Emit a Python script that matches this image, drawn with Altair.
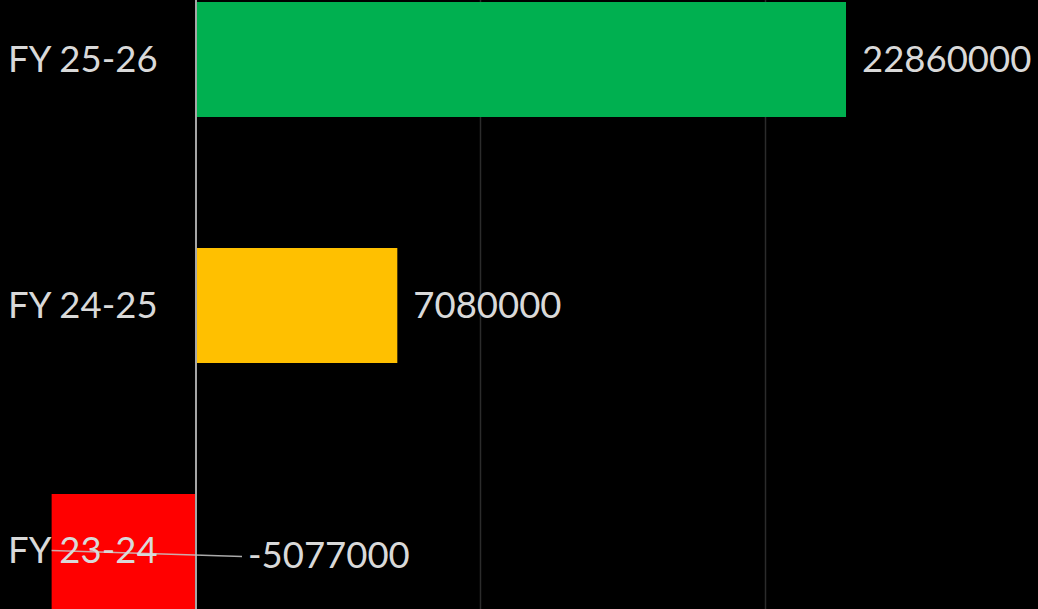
import altair as alt
import pandas as pd

categories = ["FY 25-26", "FY 24-25", "FY 23-24"]
values = [22860000, 7080000, -5077000]
colors = ["#00b050", "#ffc000", "#ff0000"]
grid_values = [10000000, 20000000]

df = pd.DataFrame({"cat": categories, "val": values, "color": colors,
                   "label": [str(v) for v in values]})

xscale = alt.Scale(domain=[-6893000, 29612000], nice=False, zero=False)
yscale = alt.Scale(domain=categories, range=[-63.5, 674.5],
                   paddingInner=0.5325, paddingOuter=0.2663)

base = alt.Chart(df)

x_axis = alt.Axis(values=grid_values, grid=True, gridColor="#2b2b2b", gridWidth=1.5,
                  labels=False, ticks=False, domain=False, title=None)

bars = base.mark_bar().encode(
    x=alt.X("val:Q", scale=xscale, axis=x_axis),
    x2=alt.datum(0),
    y=alt.Y("cat:N", scale=yscale, axis=None, sort=categories),
    color=alt.Color("color:N", scale=None),
)

zero = alt.Chart(pd.DataFrame({"z": [0]})).mark_rule(
    color="#a6a6a6", strokeWidth=2
).encode(x=alt.X("z:Q", scale=xscale))

leader = base.transform_filter("datum.val < 0").mark_rule(
    color="#c8c8c8", strokeWidth=1.5, opacity=0.85, x2Offset=46, yOffset=-1, y2Offset=5
).encode(
    x=alt.X("val:Q", scale=xscale),
    x2=alt.datum(0),
    y=alt.Y("cat:N", scale=yscale, sort=categories),
    y2=alt.Y2("cat:N"),
)

fs = 36.5

cat_labels = base.mark_text(
    align="left", baseline="middle", font="Lato", fontSize=fs, color="#d9d9d9", dy=1
).encode(
    x=alt.value(8),
    y=alt.Y("cat:N", scale=yscale, sort=categories),
    text="cat:N",
)

pos_labels = base.transform_filter("datum.val >= 0").mark_text(
    align="left", baseline="middle", font="Lato", fontSize=fs, color="#d9d9d9", dx=16, dy=1
).encode(
    x=alt.X("val:Q", scale=xscale),
    y=alt.Y("cat:N", scale=yscale, sort=categories),
    text="label:N",
)

neg_labels = base.transform_filter("datum.val < 0").mark_text(
    align="left", baseline="middle", font="Lato", fontSize=fs, color="#d9d9d9", dx=52, dy=6
).encode(
    x=alt.datum(0, scale=xscale),
    y=alt.Y("cat:N", scale=yscale, sort=categories),
    text="label:N",
)

chart = alt.layer(bars, zero, leader, cat_labels, pos_labels, neg_labels).properties(
    width=1038, height=609, background="#000000", padding=0,
    autosize=alt.AutoSizeParams(type="none"),
).configure_view(stroke=None)

chart.save("out.html", embed_options={"renderer": "svg", "actions": False})
